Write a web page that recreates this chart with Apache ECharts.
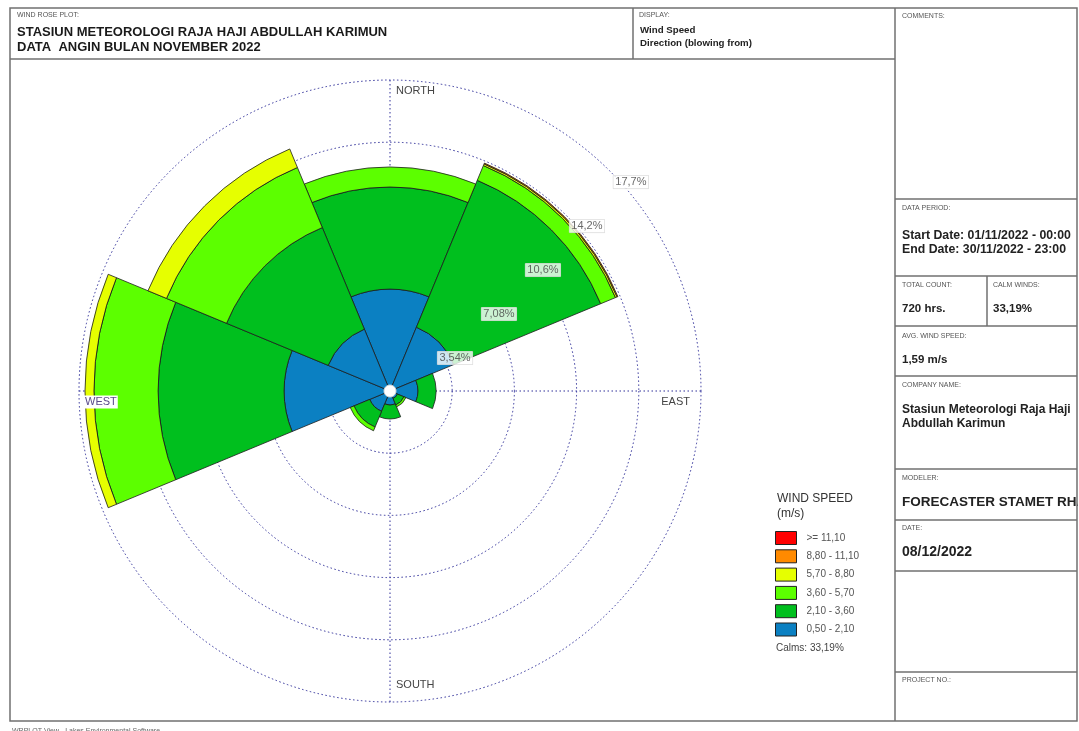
<!DOCTYPE html>
<html>
<head>
<meta charset="utf-8">
<script src="https://cdn.jsdelivr.net/npm/echarts@6/dist/echarts.min.js"></script>
<style>
  html, body { margin: 0; padding: 0; background: #fff; }
  #container { width: 1079px; height: 731px; }
</style>
</head>
<body>
<div id="container"></div>
<script>
// 初始化echarts实例
var myChart = echarts.init(document.getElementById('container'));

// 方向 (blowing from), 8 sektor
var directions = ['N', 'NE', 'E', 'SE', 'S', 'SW', 'W', 'NW'];
// kelas kecepatan angin (m/s)
var speedClasses = ['0,50 - 2,10', '2,10 - 3,60', '3,60 - 5,70', '5,70 - 8,80', '8,80 - 11,10', '>= 11,10'];
var speedColors = ['#0b80c2', '#00bf1e', '#5cff00', '#e6ff00', '#ff8a00', '#ff0000'];
// frekuensi (%) per arah untuk tiap kelas
var speed1 = [5.80, 3.93, 1.59, 0.46, 0.80, 1.25, 6.03, 3.81];
var speed2 = [5.81, 9.05, 1.03, 0.40, 0.79, 0.97, 7.17, 6.26];
var speed3 = [1.14, 0.91, 0, 0.12, 0, 0.23, 3.65, 3.70];
var speed4 = [0, 0.10, 0, 0, 0, 0, 0.51, 1.14];
var speed5 = [0, 0.05, 0, 0, 0, 0, 0, 0];
var speed6 = [0, 0, 0, 0, 0, 0, 0, 0];
var speedData = [speed1, speed2, speed3, speed4, speed5, speed6];
// lingkaran frekuensi
var ringValues = [3.54, 7.08, 10.62, 14.16, 17.7];
var ringLabels = ['3,54%', '7,08%', '10,6%', '14,2%', '17,7%'];
var calms = '33,19%';

var C = [390, 391];   // pusat mawar angin
var R = 311;
var frame = '#707070';
var FF = '"Liberation Sans", Arial, sans-serif';
var smallFont = '7px ' + FF;

function txt(x, y, s, font, fill, extra) {
    var st = {x: x, y: y, text: s, font: font, fill: fill || '#222', verticalAlign: 'middle', align: 'left'};
    for (var k in (extra || {})) st[k] = extra[k];
    return {type: 'text', z: 100, style: st};
}
function line(x1, y1, x2, y2) {
    return {type: 'line', z: 110, shape: {x1: x1, y1: y1, x2: x2, y2: y2},
        style: {stroke: frame, lineWidth: 1.5}};
}

var graphics = [
    {type: 'rect', z: 110, shape: {x: 10, y: 8, width: 1067, height: 713}, style: {fill: 'none', stroke: frame, lineWidth: 1.5}},
    {type: 'rect', z: 105, shape: {x: 1078, y: 480, width: 2, height: 40}, style: {fill: '#fff'}},
    line(10, 59, 895, 59),
    line(633, 8, 633, 59),
    line(895, 8, 895, 721),
    line(895, 199, 1077, 199),
    line(895, 276, 1077, 276),
    line(987, 276, 987, 326),
    line(895, 326, 1077, 326),
    line(895, 376, 1077, 376),
    line(895, 469, 1077, 469),
    line(895, 520, 1077, 520),
    line(895, 571, 1077, 571),
    line(895, 672, 1077, 672),

    txt(17, 15, 'WIND ROSE PLOT:', smallFont, '#555'),
    txt(17, 32, 'STASIUN METEOROLOGI RAJA HAJI ABDULLAH KARIMUN', 'bold 13px ' + FF, '#1a1a1a'),
    txt(17, 47, 'DATA  ANGIN BULAN NOVEMBER 2022', 'bold 13px ' + FF, '#1a1a1a'),
    txt(639, 15, 'DISPLAY:', smallFont, '#555'),
    txt(640, 30, 'Wind Speed', 'bold 9.7px ' + FF, '#222'),
    txt(640, 43, 'Direction (blowing from)', 'bold 9.7px ' + FF, '#222'),
    txt(902, 16, 'COMMENTS:', smallFont, '#555'),

    txt(902, 208, 'DATA PERIOD:', smallFont, '#555'),
    txt(902, 236, 'Start Date: 01/11/2022 - 00:00', 'bold 12.3px ' + FF, '#222'),
    txt(902, 250, 'End Date: 30/11/2022 - 23:00', 'bold 12.3px ' + FF, '#222'),
    txt(902, 285, 'TOTAL COUNT:', smallFont, '#555'),
    txt(902, 309, '720 hrs.', 'bold 11.5px ' + FF, '#222'),
    txt(993, 285, 'CALM WINDS:', smallFont, '#555'),
    txt(993, 309, calms, 'bold 11.5px ' + FF, '#222'),
    txt(902, 336, 'AVG. WIND SPEED:', smallFont, '#555'),
    txt(902, 360, '1,59 m/s', 'bold 11.5px ' + FF, '#222'),
    txt(902, 385, 'COMPANY NAME:', smallFont, '#555'),
    txt(902, 410, 'Stasiun Meteorologi Raja Haji', 'bold 12px ' + FF, '#222'),
    txt(902, 424, 'Abdullah Karimun', 'bold 12px ' + FF, '#222'),
    txt(902, 478, 'MODELER:', smallFont, '#555'),
    txt(902, 502, 'FORECASTER STAMET RHA', 'bold 13.5px ' + FF, '#222'),
    txt(902, 528, 'DATE:', smallFont, '#555'),
    txt(902, 552, '08/12/2022', 'bold 14px ' + FF, '#222'),
    txt(902, 680, 'PROJECT NO.:', smallFont, '#555'),
    txt(12, 731, 'WRPLOT View - Lakes Environmental Software', smallFont, '#666'),

    // label arah
    txt(396, 91, 'NORTH', '11px ' + FF, '#444'),
    txt(690, 402, 'EAST', '11px ' + FF, '#444', {align: 'right'}),
    txt(84, 402, 'WEST', '11px ' + FF, '#5a4a8a', {backgroundColor: '#fff', padding: [1, 1]}),
    txt(396, 685, 'SOUTH', '11px ' + FF, '#444'),

    // legenda
    txt(777, 499, 'WIND SPEED', '12px ' + FF, '#333'),
    txt(777, 514, '(m/s)', '12px ' + FF, '#333'),
    txt(776, 648, 'Calms: ' + calms, '10px ' + FF, '#444'),

    // lingkaran calm di pusat
    {type: 'circle', z: 80, shape: {cx: C[0], cy: C[1], r: 6}, style: {fill: '#fff', stroke: '#ddd', lineWidth: 1}}
];

var series = speedClasses.map(function (name, i) {
    return {
        name: name,
        type: 'bar',
        coordinateSystem: 'polar',
        polarIndex: 0,
        stack: 'rose',
        barCategoryGap: '0%',
        z: 3,
        itemStyle: {color: speedColors[i], borderColor: '#1c1c1c', borderWidth: 0.8},
        emphasis: {disabled: true},
        data: speedData[i].map(function (v) { return v === 0 ? '-' : v; })
    };
});

series.push({
    name: 'ringLabel',
    type: 'scatter',
    coordinateSystem: 'polar',
    polarIndex: 1,
    symbolSize: 0,
    z: 10,
    label: {
        show: true,
        position: 'inside',
        offset: [21, 11],
        formatter: function (p) { return ringLabels[p.dataIndex]; },
        fontSize: 11,
        fontFamily: FF,
        color: '#444',
        backgroundColor: '#fff',
        borderColor: '#c8c8c8',
        borderWidth: 0.5,
        padding: [1, 2]
    },
    data: ringValues.map(function (v) { return [v, 45]; })
});

var dotted = {color: '#30309a', width: 1, type: [1.5, 2.5]};

var option = {
    animation: false,
    backgroundColor: '#fff',
    polar: [
        {center: C, radius: R},
        {center: C, radius: R}
    ],
    angleAxis: [
        {
            polarIndex: 0, type: 'category', data: directions,
            startAngle: 112.5, clockwise: true, boundaryGap: true,
            axisLine: {show: false}, axisTick: {show: false},
            axisLabel: {show: false}, splitLine: {show: false}
        },
        {
            polarIndex: 1, type: 'value', min: 0, max: 360, interval: 90,
            startAngle: 90, clockwise: true,
            axisLine: {show: false}, axisTick: {show: false},
            axisLabel: {show: false},
            splitLine: {show: true, lineStyle: dotted}
        }
    ],
    radiusAxis: [
        {
            polarIndex: 0, type: 'value', min: 0, max: 17.7,
            axisLine: {show: false}, axisTick: {show: false},
            axisLabel: {show: false}, splitLine: {show: false}
        },
        {
            polarIndex: 1, type: 'value', min: 0, max: 17.7, interval: 3.54,
            axisLine: {show: false}, axisTick: {show: false},
            axisLabel: {show: false},
            splitLine: {show: true, lineStyle: dotted}
        }
    ],
    legend: {
        orient: 'vertical',
        left: 775,
        top: 531,
        padding: 0,
        itemWidth: 21,
        itemHeight: 13,
        itemGap: 4.3,
        icon: 'rect',
        selectedMode: false,
        data: speedClasses.slice().reverse(),
        itemStyle: {borderColor: '#222', borderWidth: 1},
        textStyle: {fontSize: 10, color: '#555', fontFamily: FF, padding: [0, 0, 0, 5]}
    },
    graphic: graphics,
    series: series
};
// 使用刚指定的配置项和数据显示图表。
myChart.setOption(option, true);

window.onresize = function () {
    myChart.resize();
};
</script>
</body>
</html>
